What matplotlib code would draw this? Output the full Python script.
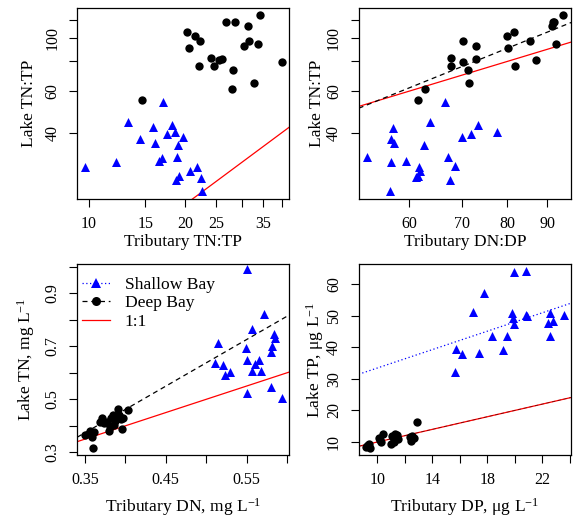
import matplotlib
matplotlib.use("Agg")
import matplotlib.pyplot as plt
import numpy as np
from matplotlib.lines import Line2D

plt.rcParams['font.family'] = ['Liberation Serif', 'DejaVu Serif']
plt.rcParams['mathtext.fontset'] = 'custom'
plt.rcParams['mathtext.rm'] = 'Liberation Serif'
plt.rcParams['mathtext.it'] = 'Liberation Serif:italic'

BLUE = '#0000ff'
RED = '#ff0000'

# ---- panel 1: tributary TN:TP vs lake TN:TP (log-log)
trib_tntp_shallow = [9.72, 12.14, 13.27, 14.44, 15.81, 16.07, 17.0, 16.59, 16.91, 17.49, 18.13,
                     18.52, 18.93, 18.87, 19.71, 18.66, 19.07, 20.64, 21.76, 22.44, 22.55]
lake_tntp_shallow = [28.8, 30.2, 44.4, 37.7, 42.3, 36.4, 53.9, 30.6, 31.5, 39.5, 43.2,
                     40.2, 35.4, 31.6, 38.5, 25.3, 26.2, 27.7, 28.6, 25.8, 22.7]
trib_tntp_deep = [14.61, 20.20, 21.39, 22.18, 20.54, 22.11, 24.06, 24.53, 25.49, 26.10, 26.86,
                  28.53, 28.18, 27.98, 30.44, 31.33, 31.56, 32.71, 33.74, 34.23, 40.10]
lake_tntp_deep = [55.1, 106.7, 102.0, 97.1, 91.1, 76.2, 82.7, 76.2, 81.3, 82.1, 117.6,
                  117.2, 73.6, 61.5, 92.5, 112.4, 97.1, 64.6, 94.7, 125.5, 79.5]

# ---- panel 2: tributary DN:DP vs lake TN:TP (log-log)
trib_dndp_shallow = [52.9, 56.7, 56.8, 56.8, 57.2, 57.3, 59.5, 61.1, 61.5, 61.8, 62.0,
                     62.6, 63.8, 66.7, 67.2, 67.6, 68.6, 70.0, 72.0, 73.5, 77.6]
lake_tntp2_shallow = [31.6, 22.7, 30.3, 37.7, 42.1, 36.4, 30.5, 26.0, 26.4, 28.6, 27.7,
                      35.4, 44.4, 53.9, 31.6, 25.3, 28.9, 38.5, 39.5, 43.2, 40.2]
trib_dndp_deep = [61.5, 62.9, 67.9, 67.9, 70.3, 70.3, 71.2, 71.5, 73.0, 73.0, 79.9,
                  80.3, 81.6, 81.9, 85.6, 87.2, 91.2, 91.7, 91.5, 92.4, 94.4]
lake_tntp2_deep = [55.1, 61.5, 76.2, 82.9, 79.2, 97.1, 73.8, 64.6, 81.9, 92.5, 102.0,
                   91.1, 106.7, 76.2, 97.1, 81.3, 112.4, 117.2, 117.6, 94.7, 125.5]
deep_dndp_fit = [-0.5765, 1.332]  # log10(y) = a + b*log10(x)

# ---- panel 3: tributary DN vs lake TN
trib_dn_shallow = [0.5505, 0.5146, 0.5105, 0.5204, 0.5233, 0.5295, 0.5496, 0.5505, 0.5501, 0.5571, 0.5571,
                   0.5608, 0.5650, 0.5675, 0.5715, 0.5798, 0.5802, 0.5810, 0.5839, 0.5855, 0.5938]
lake_tn_shallow = [0.990, 0.714, 0.635, 0.628, 0.591, 0.604, 0.693, 0.647, 0.524, 0.765, 0.607,
                   0.632, 0.647, 0.608, 0.822, 0.547, 0.679, 0.702, 0.746, 0.731, 0.505]
trib_dn_deep = [0.3496, 0.3566, 0.3590, 0.3599, 0.3686, 0.3714, 0.3769, 0.3801, 0.3818, 0.3850, 0.3859,
                0.3912, 0.3921, 0.3954, 0.3974, 0.4028, 0.3942, 0.3871, 0.3735, 0.3809, 0.3615]
lake_tn_deep = [0.366, 0.382, 0.356, 0.318, 0.413, 0.429, 0.416, 0.382, 0.429, 0.442, 0.404,
                0.465, 0.442, 0.389, 0.429, 0.458, 0.427, 0.419, 0.410, 0.397, 0.378]
deep_dn_fit = [-0.241, 1.757]  # y = a + b*x

# ---- panel 4: tributary DP vs lake TP
trib_dp_shallow = [15.68, 15.73, 16.17, 16.97, 17.43, 17.75, 18.35, 19.18, 19.42, 19.81, 19.86,
                   19.93, 19.96, 20.81, 20.83, 20.90, 22.41, 22.53, 22.60, 22.78, 23.55]
lake_tp_shallow = [32.3, 39.5, 37.8, 51.3, 38.3, 57.1, 43.7, 39.3, 43.7, 50.8, 49.2,
                   47.3, 63.8, 64.3, 50.3, 49.8, 47.6, 50.8, 43.7, 48.4, 50.2]
trib_dp_deep = [9.18, 9.37, 9.49, 10.12, 10.29, 10.39, 11.0, 11.09, 11.24, 11.43, 11.5,
                12.36, 12.45, 12.65, 12.87, 9.25, 11.19, 10.2, 11.3, 12.5, 9.3]
lake_tp_deep = [8.3, 9.5, 8.2, 11.2, 10.1, 12.5, 9.3, 11.8, 10.6, 12.2, 11.0,
                11.7, 10.3, 11.4, 16.4, 8.8, 10.1, 10.5, 12.5, 12.0, 9.0]
shallow_dp_fit = [18.86, 1.458]  # y = a + b*x
deep_dp_fit = [0.0, 1.0]

fig = plt.figure(figsize=(5.74, 5.17), dpi=100)
W, H = 574.0, 517.0


def make_axes(l, t, r, b):
    return fig.add_axes([l / W, 1 - b / H, (r - l) / W, (b - t) / H])


def style(ax, xlabel, ylabel, xlab_y, ylab_x):
    ax.set_xlabel(xlabel, fontsize=12.6)
    ax.set_ylabel(ylabel, fontsize=12.6)
    ax.xaxis.set_label_coords(0.5, xlab_y)
    ax.yaxis.set_label_coords(ylab_x, 0.5)
    ax.xaxis.label.set_va('center')
    ax.yaxis.label.set_va('center')
    ax.tick_params(axis='both', which='major', length=6, width=0.8, labelsize=11.5, pad=6)
    ax.tick_params(which='minor', length=0)
    for s in ax.spines.values():
        s.set_linewidth(0.9)


def set_ticks(ax, axis, ticks, labels):
    if axis == 'x':
        ax.set_xticks(ticks)
        ax.set_xticklabels(labels)
        ax.set_xticks([], minor=True)
    else:
        ax.set_yticks(ticks)
        ax.set_yticklabels(labels, rotation=90, va='center')
        ax.set_yticks([], minor=True)


tri = dict(marker='^', color=BLUE, s=42, linewidths=0, zorder=3)
dot = dict(marker='o', color='black', s=36, linewidths=0, zorder=3)

# panel 1
ax1 = make_axes(77.3, 8.3, 289.3, 199.3)
ax1.set_xscale('log')
ax1.set_yscale('log')
ax1.set_xlim(9.19, 42.3)
ax1.set_ylim(21.0, 134)
ax1.scatter(trib_tntp_shallow, lake_tntp_shallow, **tri)
ax1.scatter(trib_tntp_deep, lake_tntp_deep, **dot)
xl = np.array(ax1.get_xlim())
ax1.plot(xl, xl, color=RED, lw=0.9, zorder=2)
set_ticks(ax1, 'x', [10, 15, 20, 25, 30, 35, 40], ['10', '15', '20', '25', '', '35', ''])
set_ticks(ax1, 'y', [40, 60, 80, 100, 120], ['40', '60', '', '100', ''])
style(ax1, 'Tributary TN:TP', 'Lake TN:TP', -0.226, -0.227)

# panel 2
ax2 = make_axes(358.7, 8.3, 571.3, 199.3)
ax2.set_xscale('log')
ax2.set_yscale('log')
ax2.set_xlim(51.7, 96.6)
ax2.set_ylim(21.0, 134)
ax2.scatter(trib_dndp_shallow, lake_tntp2_shallow, **tri)
ax2.scatter(trib_dndp_deep, lake_tntp2_deep, **dot)
xl = np.array(ax2.get_xlim())
ax2.plot(xl, xl, color=RED, lw=0.9, zorder=2)
ax2.plot(xl, 10 ** (deep_dndp_fit[0] + deep_dndp_fit[1] * np.log10(xl)),
         color='black', lw=0.9, ls=(0, (4, 3)), zorder=2)
set_ticks(ax2, 'x', [60, 70, 80, 90], ['60', '70', '80', '90'])
set_ticks(ax2, 'y', [40, 60, 80, 100, 120], ['40', '60', '', '100', ''])
style(ax2, 'Tributary DN:DP', 'Lake TN:TP', -0.226, -0.195)

# panel 3
ax3 = make_axes(77.3, 264.3, 289.3, 455)
ax3.set_xlim(0.3405, 0.6028)
ax3.set_ylim(0.290, 1.009)
ax3.scatter(trib_dn_shallow, lake_tn_shallow, **tri)
ax3.scatter(trib_dn_deep, lake_tn_deep, **dot)
xl = np.array(ax3.get_xlim())
ax3.plot(xl, xl, color=RED, lw=0.9, zorder=2)
ax3.plot(xl, deep_dn_fit[0] + deep_dn_fit[1] * xl, color='black', lw=0.9, ls=(0, (4, 3)), zorder=2)
set_ticks(ax3, 'x', [0.35, 0.40, 0.45, 0.50, 0.55, 0.60], ['0.35', '', '0.45', '', '0.55', ''])
set_ticks(ax3, 'y', [0.3, 0.4, 0.5, 0.6, 0.7, 0.8, 0.9, 1.0], ['0.3', '', '0.5', '', '0.7', '', '0.9', ''])
style(ax3, r'Tributary DN, mg L$^{-1}$', r'Lake TN, mg L$^{-1}$', -0.273, -0.243)
handles = [
    Line2D([], [], color=BLUE, ls=(0, (1, 2)), lw=0.9, marker='^', ms=7, markeredgewidth=0),
    Line2D([], [], color='black', ls=(0, (4, 3)), lw=0.9, marker='o', ms=6.5, markeredgewidth=0),
    Line2D([], [], color=RED, lw=0.9),
]
ax3.legend(handles, ['Shallow Bay', 'Deep Bay', '1:1'], loc='upper left', frameon=False,
           fontsize=12.6, handlelength=1.6, handletextpad=0.85, labelspacing=0.12,
           borderpad=0, borderaxespad=0, bbox_to_anchor=(0.021, 0.935))

# panel 4
ax4 = make_axes(358.7, 264.3, 570.7, 455)
ax4.set_xlim(8.645, 24.07)
ax4.set_ylim(5.88, 66.3)
ax4.scatter(trib_dp_shallow, lake_tp_shallow, **tri)
ax4.scatter(trib_dp_deep, lake_tp_deep, **dot)
xl = np.array(ax4.get_xlim())
ax4.plot(xl, shallow_dp_fit[0] + shallow_dp_fit[1] * xl, color=BLUE, lw=0.9, ls=(0, (1, 2)), zorder=2)
ax4.plot(xl, xl, color=RED, lw=0.9, zorder=2)
ax4.plot(xl, deep_dp_fit[0] + deep_dp_fit[1] * xl, color='black', lw=0.6, ls=(0, (4, 3)), zorder=2, alpha=0.5)
set_ticks(ax4, 'x', [10, 12, 14, 16, 18, 20, 22, 24], ['10', '', '14', '', '18', '', '22', ''])
set_ticks(ax4, 'y', [10, 20, 30, 40, 50, 60], ['10', '20', '30', '40', '50', '60'])
style(ax4, r'Tributary DP, $\mathrm{\mu}$g L$^{-1}$', r'Lake TP, $\mathrm{\mu}$g L$^{-1}$', -0.275, -0.208)

fig.savefig('out.png', dpi=100)
